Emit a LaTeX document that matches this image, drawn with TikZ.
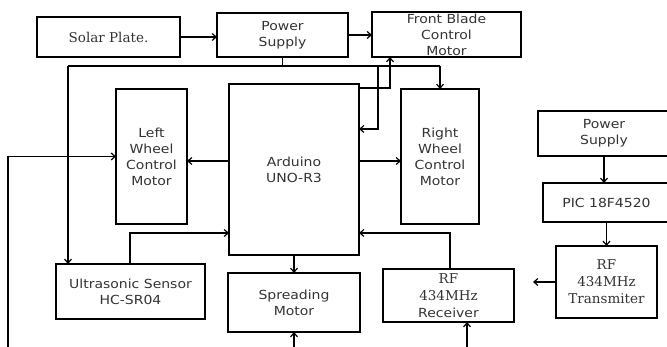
\documentclass[tikz,border=0pt]{standalone}
\usepackage{fontspec}
\setmainfont{DejaVu Sans}[FakeStretch=1.12]
\newfontfamily\rfserif{DejaVu Serif}
\usetikzlibrary{positioning,arrows.meta}

\begin{document}
\begin{tikzpicture}[x=1pt, y=-1pt, line width=1.2pt,
  font=\fontsize{12.5}{16}\selectfont,
  b/.style={draw, align=center, inner sep=0pt, outer sep=0pt, text=black!80},
  sr/.style={font=\rfserif\fontsize{13.5}{17}\selectfont},
  e/.style={-{Straight Barb[length=4pt,width=7pt]}}]
\useasboundingbox (0,0) rectangle (667,347);
% top row
\node[b, sr, minimum width=143pt, minimum height=40pt] (sol) at (108.5,37) {Solar Plate.};
\node[b, minimum width=131pt, minimum height=44pt] (ps1) at (282.5,35) {Power\\Supply};
\node[b, minimum width=149pt, minimum height=45pt] (bld) at (446.5,34.5) {Front Blade\\Control\\Motor};
% middle row
\node[b, minimum width=71pt, minimum height=135pt] (lw) at (151.5,156.5) {Left\\Wheel\\Control\\Motor};
\node[b, minimum width=130pt, minimum height=171pt] (ard) at (294,169.5) {Arduino\\UNO-R3};
\node[b, minimum width=78pt, minimum height=135pt] (rw) at (440,156.5) {Right\\Wheel\\Control\\Motor};
% transmitter side
\node[b, minimum width=132pt, minimum height=45pt] (ps2) at (604,133.5) {Power\\Supply};
\node[b, minimum width=127pt, minimum height=39pt] (pic) at (606.5,202.5) {PIC 18F4520};
\node[b, sr, minimum width=101pt, minimum height=72pt] (tx) at (606.5,282) {RF\\434MHz\\Transmiter};
% bottom row
\node[b, minimum width=149pt, minimum height=55pt] (us) at (130.5,291.5) {Ultrasonic Sensor\\HC-SR04};
\node[b, minimum width=132pt, minimum height=59pt] (spr) at (294,302.5) {Spreading\\Motor};
\node[b, sr, minimum width=131pt, minimum height=53pt] (rx) at (448.5,295.5) {RF\\434MHz\\{\rmfamily\fontsize{12.5}{16}\selectfont Receiver}};
% bends and free ends
\coordinate (jl) at (68,66); \coordinate (jm) at (378,66); \coordinate (jr) at (440,66);
\coordinate (am) at (378,129); \coordinate (ab) at (390,88); \coordinate (mw) at (0,161);
\coordinate (uh) at (130,233); \coordinate (rh) at (450,233);
\coordinate (fl) at (8,350); \coordinate (fs) at (294,350); \coordinate (fr) at (467,350);
\coordinate (tl) at (533,282);
% connectors
\draw[e] (sol.east) -- (sol.east -| ps1.west);
\draw[e] (ps1.east) -- (ps1.east -| bld.west);
\draw (ps1.south) -- (ps1.south |- jl);
\draw (jl) -- (jr);
\draw[e] (jl) -- (jl |- us.north);
\draw[e] (jr) -- (rw.north);
\draw[e] (jm) -- (am) -- (am -| ard.east);
\draw[e] (ab -| ard.east) -- (ab) -- (ab |- bld.south);
\draw[e] (ard.west |- mw) -- (lw.east |- mw);
\draw[e] (ard.east |- mw) -- (rw.west |- mw);
\draw[e] (fl) |- (lw.west);
\draw[e] (us.north -| uh) |- (ard.west |- uh);
\draw[e] (rx.north -| rh) |- (ard.east |- rh);
\draw[e] (ard.south) -- (spr.north);
\draw[e] (fs) -- (spr.south);
\draw[e] (fr) -- (fr |- rx.south);
\draw[e] (ps2.south) -- (ps2.south |- pic.north);
\draw[e] (pic.south) -- (tx.north);
\draw[e] (tx.west) -- (tl);
\end{tikzpicture}
\end{document}
